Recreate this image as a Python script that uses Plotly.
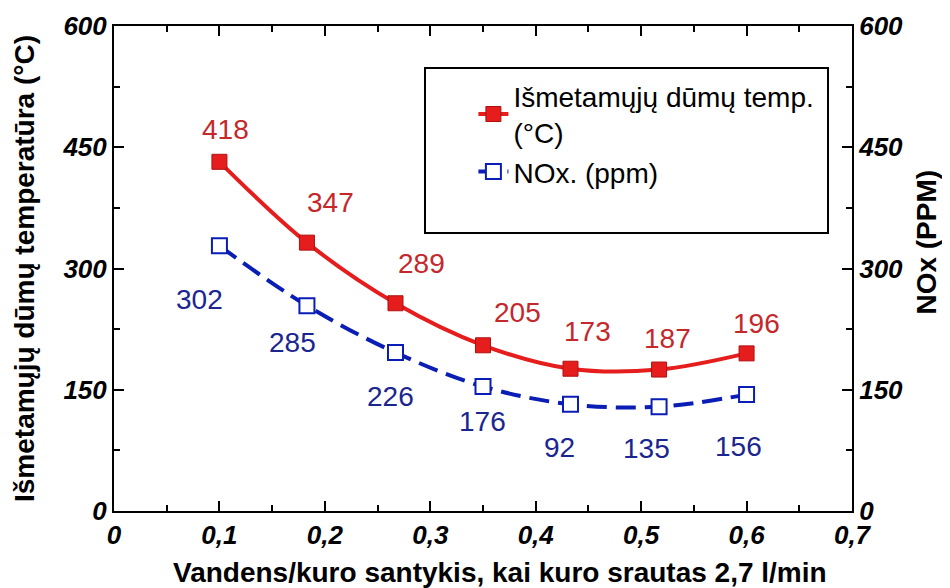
import plotly.graph_objects as go

# ------------------------------------------------------------
# Data
# ------------------------------------------------------------
x_ratio = [0.1, 0.183, 0.267, 0.35, 0.433, 0.517, 0.6]
temp_plot = [432, 332, 257, 205, 176, 175, 195]
nox_plot = [328, 254, 196, 154, 132, 129, 144]
temp_labels = ["418", "347", "289", "205", "173", "187", "196"]
nox_labels = ["302", "285", "226", "176", "92", "135", "156"]

# label offsets (px) from each marker
temp_shift = [(6, 32), (24, 40), (26, 40), (34, 33), (17, 37), (8, 31), (10, 30)]
nox_shift = [(-20, -54), (-14, -37), (-5, -44), (-1, -35), (-11, -43), (-13, -42), (-8, -52)]

RED = "#e51d1d"
RED_TXT = "#c4282b"
BLUE = "#0a1db4"
BLUE_TXT = "#1b2590"
BASE = "Arial, 'Liberation Sans', sans-serif"
NARROW = "'Liberation Sans Narrow', 'Arial Narrow', Arial, sans-serif"

fig = go.Figure()

fig.add_trace(go.Scatter(
    x=x_ratio, y=temp_plot,
    mode="lines+markers",
    name="Išmetamųjų dūmų temp.<br>(°C)",
    line=dict(color=RED, width=4, shape="spline"),
    marker=dict(symbol="square", size=15, color=RED, line=dict(color="#b01010", width=1)),
))

fig.add_trace(go.Scatter(
    x=x_ratio, y=nox_plot,
    mode="lines+markers",
    name="NOx. (ppm)",
    yaxis="y2",
    line=dict(color=BLUE, width=4, shape="spline", dash="20px,9px"),
    marker=dict(symbol="square", size=15, color="white", line=dict(color=BLUE, width=2)),
))

# value labels
for x, y, t, (dx, dy) in zip(x_ratio, temp_plot, temp_labels, temp_shift):
    fig.add_annotation(x=x, y=y, text=t, showarrow=False, xshift=dx, yshift=dy,
                       font=dict(family=BASE, size=28, color=RED_TXT))
for x, y, t, (dx, dy) in zip(x_ratio, nox_plot, nox_labels, nox_shift):
    fig.add_annotation(x=x, y=y, yref="y2", text=t, showarrow=False, xshift=dx, yshift=dy,
                       font=dict(family=BASE, size=28, color=BLUE_TXT))

# axis titles placed as annotations (the x title sits a bit right of centre)
fig.add_annotation(x=1.125, y=0.555, xref="paper", yref="paper", text="<b>NOx (PPM)</b>",
                   textangle=-90, showarrow=False, font=dict(family=BASE, size=28, color="black"))
fig.add_annotation(x=0.523, y=-0.127, xref="paper", yref="paper", yanchor="middle",
                   text="<b>Vandens/kuro santykis, kai kuro srautas 2,7 l/min</b>",
                   showarrow=False, font=dict(family=NARROW, size=28, color="black"))

# legend frame
fig.add_shape(type="rect", xref="paper", yref="paper", x0=0.4214, x1=0.9675, y0=0.573, y1=0.9134,
              line=dict(color="black", width=2), fillcolor="white", layer="below")

tick_font = dict(family=BASE, size=26, color="black")
axis_common = dict(
    showline=True, linecolor="black", linewidth=2,
    ticks="inside", ticklen=10, tickwidth=2, tickcolor="black",
    showgrid=False, zeroline=False, automargin=False,
    tickfont=tick_font,
)

# page body has an 8px margin, so the figure is 8px smaller each way
fig.update_layout(
    width=942, height=580,
    margin=dict(l=106, r=98, t=18, b=77),
    plot_bgcolor="white", paper_bgcolor="white",
    font=dict(family=BASE, color="black"),
    xaxis=dict(
        range=[0, 0.7], tickvals=[0, 0.1, 0.2, 0.3, 0.4, 0.5, 0.6, 0.7],
        ticktext=["<b><i>0</i></b>", "<b><i>0,1</i></b>", "<b><i>0,2</i></b>", "<b><i>0,3</i></b>",
                  "<b><i>0,4</i></b>", "<b><i>0,5</i></b>", "<b><i>0,6</i></b>", "<b><i>0,7</i></b>"],
        mirror="ticks",
        minor=dict(dtick=0.05, ticks="inside", ticklen=6, tickwidth=2, tickcolor="black"),
        **axis_common,
    ),
    yaxis=dict(
        range=[0, 600], tickvals=[0, 150, 300, 450, 600],
        ticktext=["<b><i>0</i></b>", "<b><i>150</i></b>", "<b><i>300</i></b>",
                  "<b><i>450</i></b>", "<b><i>600</i></b>"],
        minor=dict(dtick=75, ticks="inside", ticklen=6, tickwidth=2, tickcolor="black"),
        title=dict(text="<b>Išmetamųjų dūmų temperatūra (°C)</b>",
                   font=dict(family=BASE, size=28), standoff=20),
        **axis_common,
    ),
    yaxis2=dict(
        range=[0, 600], overlaying="y", side="right",
        tickvals=[0, 150, 300, 450, 600],
        ticktext=["<b><i>0</i></b>", "<b><i>150</i></b>", "<b><i>300</i></b>",
                  "<b><i>450</i></b>", "<b><i>600</i></b>"],
        minor=dict(dtick=75, ticks="inside", ticklen=6, tickwidth=2, tickcolor="black"),
        **axis_common,
    ),
    legend=dict(
        x=0.487, y=0.907, xanchor="left", yanchor="top",
        bgcolor="rgba(0,0,0,0)", borderwidth=0,
        font=dict(family=BASE, size=28, color="black"),
        tracegroupgap=9,
    ),
    showlegend=True,
)

fig.write_html("out.html")
